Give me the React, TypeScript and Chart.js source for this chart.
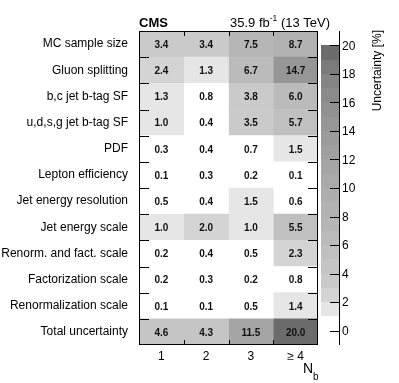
import React, { useEffect, useRef } from "react";
import { Chart, registerables } from "chart.js";

Chart.register(...registerables);

const rowLabels = [
  "MC sample size",
  "Gluon splitting",
  "b,c jet b-tag SF",
  "u,d,s,g jet b-tag SF",
  "PDF",
  "Lepton efficiency",
  "Jet energy resolution",
  "Jet energy scale",
  "Renorm. and fact. scale",
  "Factorization scale",
  "Renormalization scale",
  "Total uncertainty",
];
const colLabels = ["1", "2", "3", "\u2265 4"];
const nb1 = [3.4, 2.4, 1.3, 1.0, 0.3, 0.1, 0.5, 1.0, 0.2, 0.2, 0.1, 4.6];
const nb2 = [3.4, 1.3, 0.8, 0.4, 0.4, 0.3, 0.4, 2.0, 0.4, 0.3, 0.1, 4.3];
const nb3 = [7.5, 6.7, 3.8, 3.5, 0.7, 0.2, 1.5, 1.0, 0.5, 0.2, 0.5, 11.5];
const nb4 = [8.7, 14.7, 6.0, 5.7, 1.5, 0.1, 0.6, 5.5, 2.3, 0.8, 1.4, 20.0];
const columns = [nb1, nb2, nb3, nb4];
const zMin = 0;
const zMax = 20;
const cbTicks = [0, 2, 4, 6, 8, 10, 12, 14, 16, 18, 20];

// grey level of each unit band of the colour palette (style)
const bandGrey = [255, 230, 212, 202, 197, 192, 187, 182, 178, 174, 170, 165, 160, 155, 150, 145, 139, 132, 122, 108];

function greyFor(v: number): string {
  let i = Math.floor(v);
  if (i < 0) i = 0;
  if (i > bandGrey.length - 1) i = bandGrey.length - 1;
  const g = bandGrey[i];
  return `rgb(${g},${g},${g})`;
}

const FONT = "'Liberation Sans', Arial, Helvetica, sans-serif";

const decorPlugin = {
  id: "decor",
  afterDatasetsDraw(chart: any) {
    const { ctx, chartArea } = chart;
    const xs = chart.scales.x;
    const ys = chart.scales.y;
    const cb = chart.scales.cb;
    const { left, right, top, bottom } = chartArea;
    ctx.save();

    // cell values
    ctx.fillStyle = "#111";
    ctx.font = `bold 10px ${FONT}`;
    ctx.textAlign = "center";
    ctx.textBaseline = "middle";
    columns.forEach((col, j) => {
      const cx = xs.getPixelForValue(j + 1);
      col.forEach((v, i) => {
        const cy = ys.getPixelForValue(i);
        ctx.fillText(v.toFixed(1), cx, cy + 1);
      });
    });

    // frame
    ctx.strokeStyle = "#000";
    ctx.lineWidth = 1;
    ctx.strokeRect(left + 0.5, top + 0.5, right - left - 1, bottom - top - 1);

    // ticks at bin edges
    ctx.beginPath();
    for (let i = 1; i < rowLabels.length; i++) {
      const y = Math.round((ys.getPixelForValue(i - 1) + ys.getPixelForValue(i)) / 2) + 0.5;
      ctx.moveTo(left, y);
      ctx.lineTo(left + 10, y);
      ctx.moveTo(right, y);
      ctx.lineTo(right - 10, y);
    }
    for (let j = 1; j < colLabels.length; j++) {
      const x = Math.round(xs.getPixelForValue(j + 0.5)) + 0.5;
      ctx.moveTo(x, top);
      ctx.lineTo(x, top + 5);
      ctx.moveTo(x, bottom);
      ctx.lineTo(x, bottom - 5);
    }
    ctx.stroke();

    // colour bar
    const cbL = right + 3;
    const cbR = right + 21;
    for (let k = zMin; k < zMax; k++) {
      const y0 = cb.getPixelForValue(k);
      const y1 = cb.getPixelForValue(k + 1);
      ctx.fillStyle = greyFor(k + 0.5);
      ctx.fillRect(cbL, Math.round(y1), cbR - cbL, Math.round(y0) - Math.round(y1));
    }
    ctx.strokeStyle = "#000";
    ctx.beginPath();
    ctx.moveTo(cbR + 0.5, top);
    ctx.lineTo(cbR + 0.5, bottom);
    cbTicks.forEach((t) => {
      const y = Math.round(cb.getPixelForValue(t)) + 0.5;
      ctx.moveTo(cbR + 1, y);
      ctx.lineTo(cbR - 9, y);
    });
    ctx.stroke();
    ctx.fillStyle = "#000";
    ctx.font = `12px ${FONT}`;
    ctx.textAlign = "left";
    ctx.textBaseline = "middle";
    cbTicks.forEach((t) => {
      ctx.fillText(String(t), cbR + 3, cb.getPixelForValue(t) + 1);
    });

    // colour bar title
    ctx.save();
    ctx.translate(381, 30);
    ctx.rotate(-Math.PI / 2);
    ctx.textAlign = "right";
    ctx.textBaseline = "alphabetic";
    ctx.font = `12px ${FONT}`;
    ctx.fillText("Uncertainty [%]", 0, 0);
    ctx.restore();

    // header
    ctx.textBaseline = "alphabetic";
    ctx.textAlign = "left";
    ctx.font = `bold 13px ${FONT}`;
    ctx.fillText("CMS", left, 27);
    ctx.font = `13px ${FONT}`;
    let hx = 230;
    const p1 = "35.9 fb";
    ctx.fillText(p1, hx, 27);
    hx += ctx.measureText(p1).width;
    ctx.font = `8.5px ${FONT}`;
    ctx.fillText("-1", hx, 21);
    hx += ctx.measureText("-1").width;
    ctx.font = `13px ${FONT}`;
    ctx.fillText(" (13 TeV)", hx, 27);

    // x title N_b
    ctx.font = `14px ${FONT}`;
    ctx.fillText("N", 303, 373);
    const nw = ctx.measureText("N").width;
    ctx.font = `10px ${FONT}`;
    ctx.fillText("b", 303 + nw, 380);

    ctx.restore();
  },
};

export default function App() {
  const ref = useRef<HTMLCanvasElement>(null);
  useEffect(() => {
    document.body.style.margin = "0";
    Chart.defaults.font.family = FONT;
    const datasets = columns.map((col, j) => ({
      label: colLabels[j],
      data: col.map(() => [j + 0.5, j + 1.5]),
      backgroundColor: col.map((v) => greyFor(v)),
      borderWidth: 0,
      borderSkipped: false,
      barPercentage: 1,
      categoryPercentage: 1,
      grouped: false,
    }));
    const chart = new Chart(ref.current as HTMLCanvasElement, {
      type: "bar",
      data: { labels: rowLabels, datasets: datasets as any },
      options: {
        indexAxis: "y",
        animation: false,
        responsive: true,
        maintainAspectRatio: false,
        layout: { padding: { top: 31, left: 0, right: 0, bottom: 0 } },
        plugins: { legend: { display: false }, tooltip: { enabled: false } },
        scales: {
          x: {
            type: "linear",
            position: "bottom",
            min: 0.5,
            max: 4.5,
            afterBuildTicks: (s: any) => {
              s.ticks = colLabels.map((_, i) => ({ value: i + 1 }));
            },
            afterFit: (s: any) => {
              s.height = 38;
            },
            grid: { display: false },
            border: { display: false },
            ticks: {
              color: "#000",
              font: { size: 12, family: FONT },
              padding: -4,
              maxRotation: 0,
              autoSkip: false,
              callback: (v: any) => colLabels[Math.round(Number(v)) - 1],
            },
          },
          y: {
            type: "category",
            position: "left",
            afterFit: (s: any) => {
              s.width = 139;
            },
            grid: { display: false },
            border: { display: false },
            ticks: {
              color: "#000",
              font: { size: 12, family: FONT },
              padding: 3,
              autoSkip: false,
            },
          },
          cb: {
            type: "linear",
            position: "right",
            min: zMin,
            max: zMax,
            afterFit: (s: any) => {
              s.width = 81;
            },
            grid: { display: false },
            border: { display: false },
            ticks: { display: false },
          },
        } as any,
      },
      plugins: [decorPlugin],
    });
    return () => chart.destroy();
  }, []);
  return (
    <div style={{ position: "relative", width: 399, height: 383 }}>
      <canvas ref={ref} />
    </div>
  );
}
